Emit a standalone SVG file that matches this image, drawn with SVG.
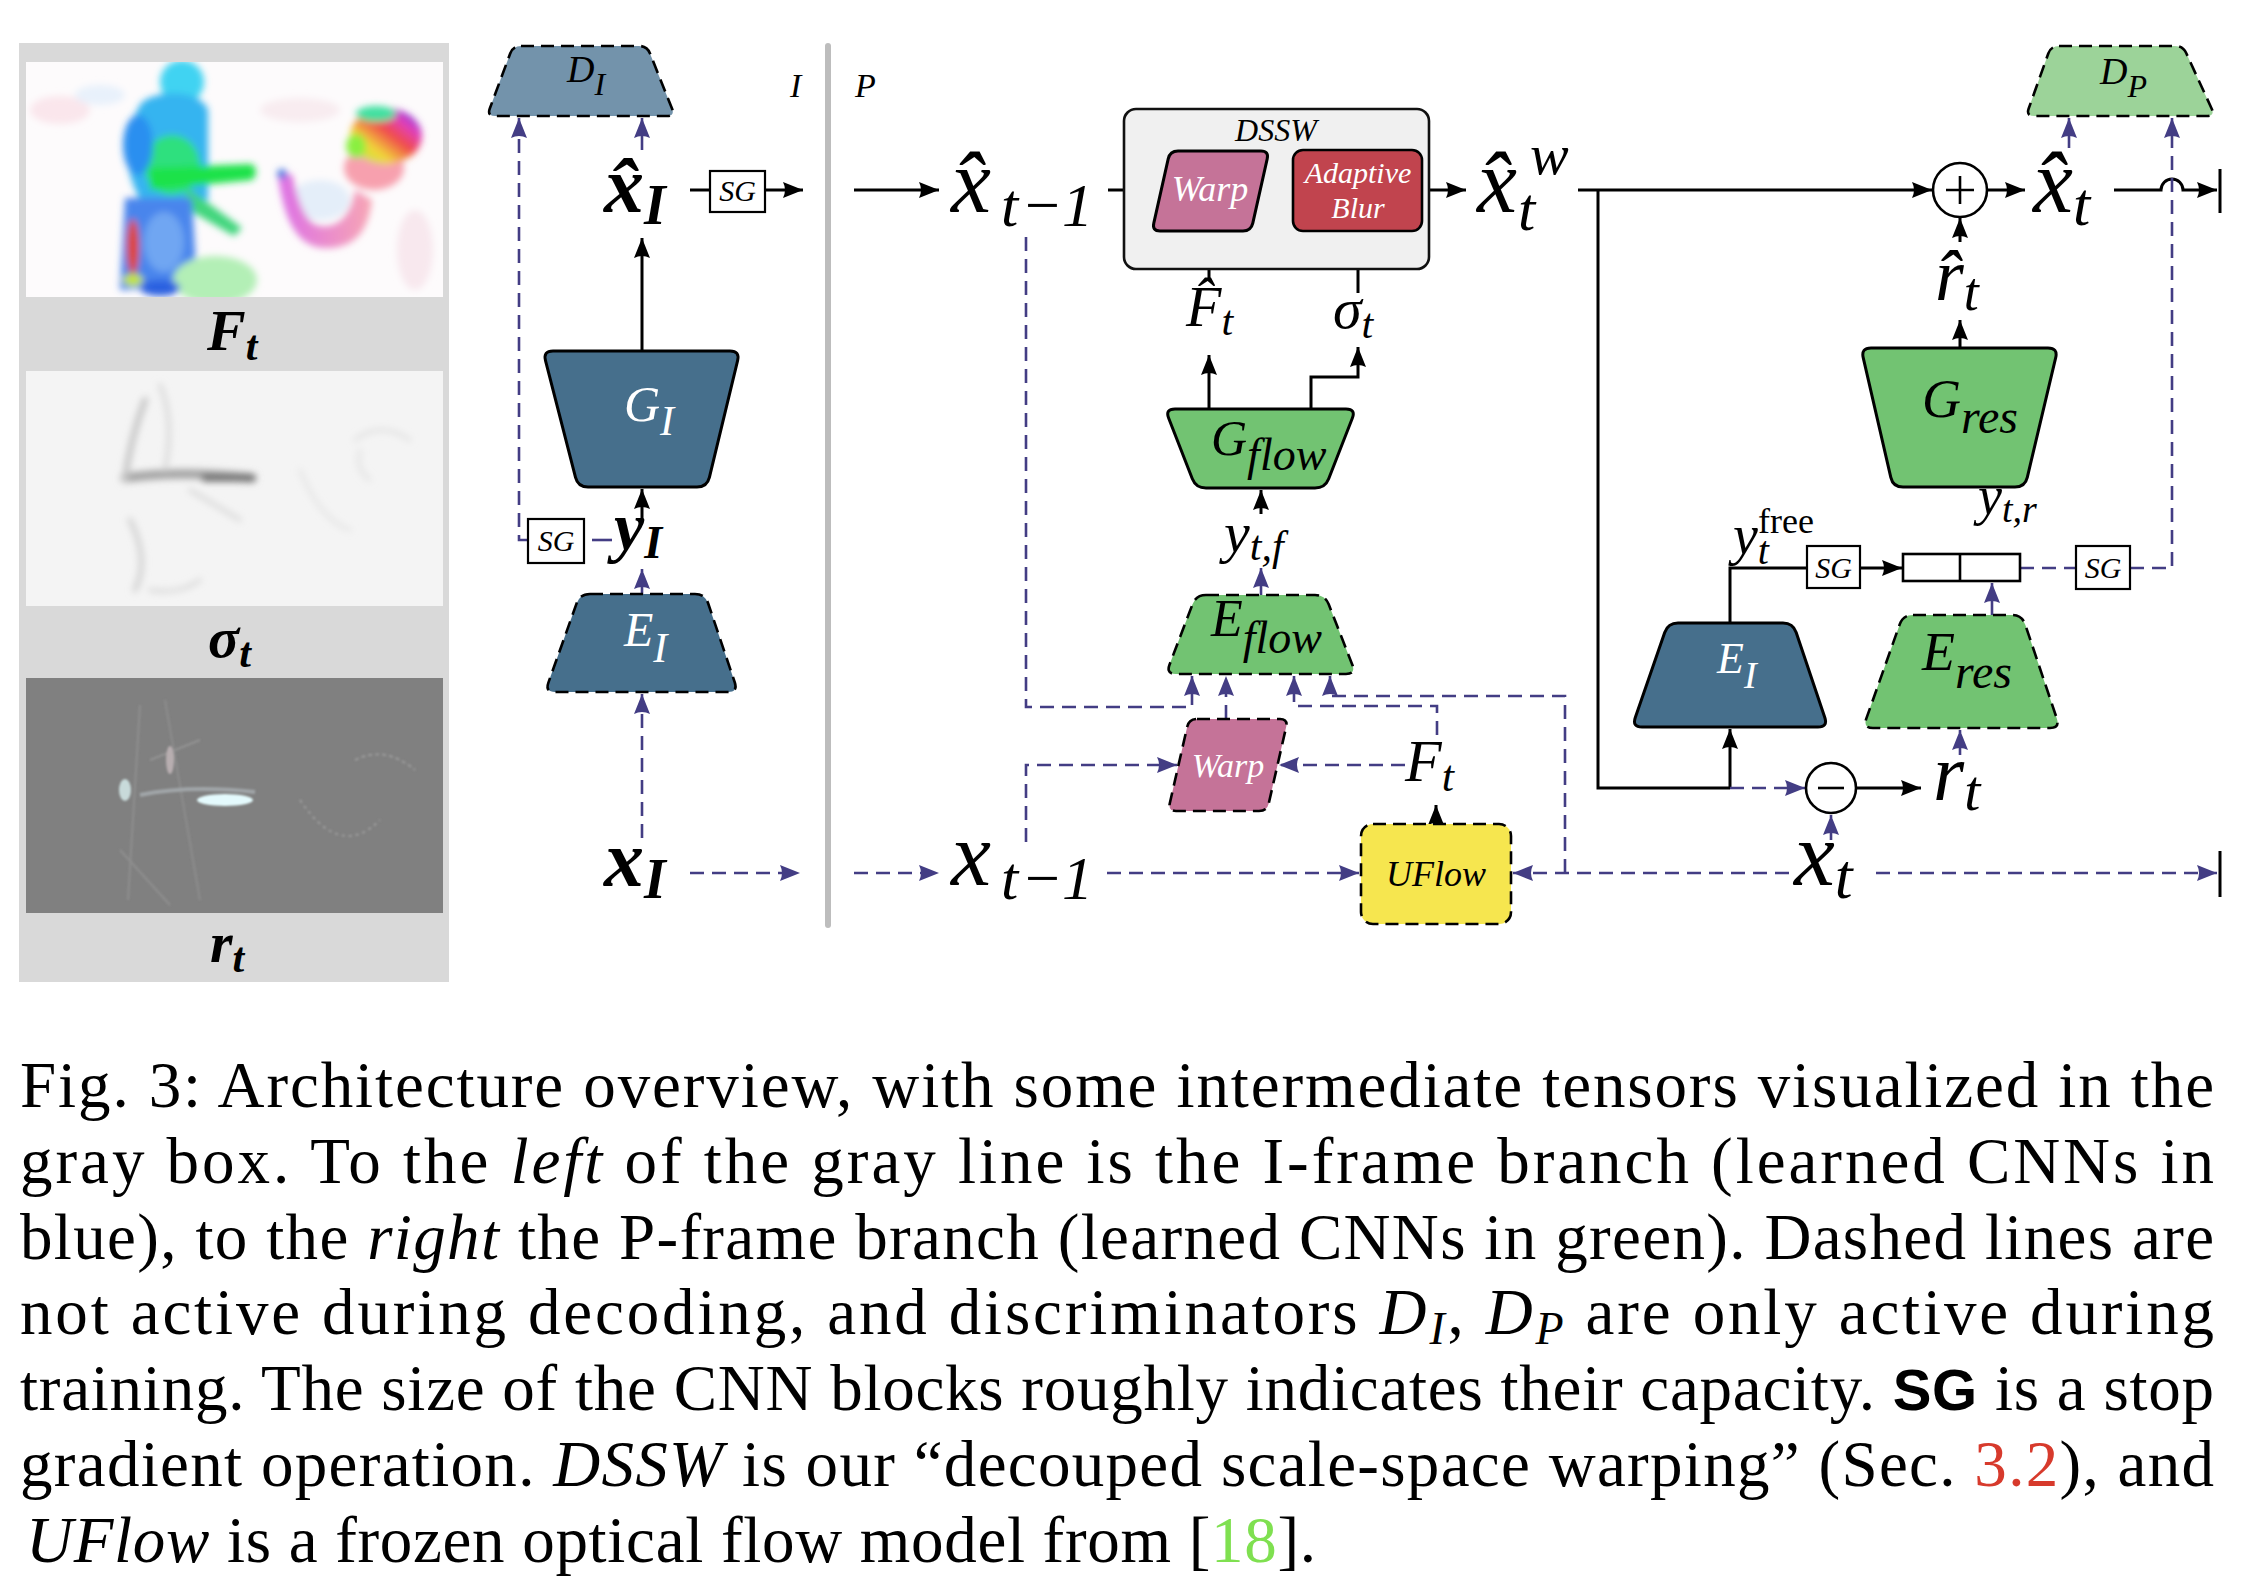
<svg xmlns="http://www.w3.org/2000/svg" width="2262" height="1596" viewBox="0 0 2262 1596">
<defs>
<style>
.m{font-family:"Liberation Serif","Times New Roman",serif;font-style:italic;fill:#000}
.mb{font-family:"Liberation Serif","Times New Roman",serif;font-style:italic;font-weight:bold;fill:#000}
.r{font-family:"Liberation Serif","Times New Roman",serif;fill:#000}
.wt{fill:#fff}
.cap{font-family:"Liberation Serif","Times New Roman",serif;font-size:65px;fill:#000}
.i{font-style:italic}
.ln{fill:none;stroke:#000;stroke-width:3}
.dl{fill:none;stroke:#433d84;stroke-width:2.6;stroke-dasharray:14 8}
.node{stroke:#000;stroke-width:3;stroke-linejoin:round}
.dn{stroke:#000;stroke-width:2.6;stroke-dasharray:13 7;stroke-linejoin:round}
.sg{fill:#fff;stroke:#000;stroke-width:2.2}
.blue{fill:#466f8c}
.green{fill:#72c372}
.pink{fill:#c57398}
</style>
<marker id="ab" viewBox="0 0 20 16" refX="20" refY="8" markerWidth="20" markerHeight="16" markerUnits="userSpaceOnUse" orient="auto"><path d="M0,0 L20,8 L0,16 Q4,8 0,0 Z" fill="#000"/></marker>
<marker id="ap" viewBox="0 0 20 16" refX="20" refY="8" markerWidth="20" markerHeight="16" markerUnits="userSpaceOnUse" orient="auto"><path d="M0,0 L20,8 L0,16 Q4,8 0,0 Z" fill="#433d84"/></marker>
<filter id="bl" x="-20%" y="-20%" width="140%" height="140%"><feGaussianBlur stdDeviation="3.5"/></filter>
<filter id="bl2" x="-20%" y="-20%" width="140%" height="140%"><feGaussianBlur stdDeviation="1.3"/></filter>
<clipPath id="c1"><rect x="26" y="62" width="417" height="235"/></clipPath>
<clipPath id="c2"><rect x="26" y="371" width="417" height="235"/></clipPath>
<clipPath id="c3"><rect x="26" y="678" width="417" height="235"/></clipPath>
<linearGradient id="armg" x1="0" y1="0" x2="1" y2="0"><stop offset="0" stop-color="#dc6fe6"/><stop offset="1" stop-color="#f7a6b4"/></linearGradient>
<linearGradient id="headg" x1="0" y1="1" x2="1" y2="0"><stop offset="0" stop-color="#a6f03a"/><stop offset="0.3" stop-color="#f2d63a"/><stop offset="0.55" stop-color="#f04a4a"/><stop offset="0.75" stop-color="#e040c0"/><stop offset="1" stop-color="#2030e8"/></linearGradient>
</defs>

<rect width="2262" height="1596" fill="#fff"/>

<!-- left panel with visualized tensors -->
<g id="panel">
<rect x="19" y="43" width="430" height="939" fill="#d9d9d9"/>
<g clip-path="url(#c1)">
<rect x="26" y="62" width="417" height="235" fill="#fdfbfc"/>
<g filter="url(#bl)">
<ellipse cx="60" cy="110" rx="30" ry="14" fill="#fae6ec"/>
<ellipse cx="100" cy="95" rx="25" ry="10" fill="#e8f1fb"/>
<ellipse cx="300" cy="110" rx="40" ry="12" fill="#f8ecf0"/>
<ellipse cx="415" cy="250" rx="18" ry="40" fill="#f8e8ee"/>
<ellipse cx="320" cy="200" rx="30" ry="20" fill="#e4eef9"/>
<ellipse cx="182" cy="82" rx="22" ry="22" fill="#3fd3f2"/>
<path d="M140,105 C150,90 200,88 208,110 L208,200 L140,200 C125,170 120,140 140,105 Z" fill="#35b4f0"/>
<ellipse cx="172" cy="165" rx="28" ry="30" fill="#2ee07e"/>
<ellipse cx="138" cy="145" rx="15" ry="30" fill="#2a8ff0"/>
<path d="M150,168 L252,164 Q260,172 252,180 L150,190 Z" fill="#1be24a"/>
<path d="M188,188 L242,228 L234,236 L182,206 Z" fill="#3fd57c"/>
<path d="M125,198 L192,198 L197,285 L120,290 Z" fill="#4a85ec"/>
<ellipse cx="164" cy="242" rx="20" ry="30" fill="#6fa6f2"/>
<ellipse cx="215" cy="280" rx="42" ry="24" fill="#b3efb6"/>
<ellipse cx="133" cy="247" rx="6" ry="28" fill="#e0421e"/>
<ellipse cx="133" cy="280" rx="10" ry="6" fill="#c6e82c"/>
<ellipse cx="160" cy="288" rx="20" ry="8" fill="#2c60e0"/>
<path d="M278,176 C285,226 300,250 330,248 C355,246 368,232 372,200 L355,190 C350,220 335,228 320,226 C305,224 298,200 292,174 Z" fill="url(#armg)"/>
<circle cx="282" cy="174" r="5" fill="#4a78e0"/>
<ellipse cx="374" cy="168" rx="30" ry="22" fill="#f7a0ae"/>
<ellipse cx="386" cy="136" rx="36" ry="28" fill="url(#headg)"/>
<ellipse cx="356" cy="146" rx="10" ry="12" fill="#8aef40"/>
<ellipse cx="376" cy="114" rx="20" ry="8" fill="#40e0a0"/>
</g>
</g>
<g clip-path="url(#c2)">
<rect x="26" y="371" width="417" height="235" fill="#f4f4f4"/>
<g filter="url(#bl)" fill="none" stroke-linecap="round">
<path d="M125,478 Q180,470 252,478" stroke="#a0a0a0" stroke-width="9"/>
<path d="M205,478 L252,478" stroke="#6a6a6a" stroke-width="7"/>
<path d="M145,400 Q130,440 125,480" stroke="#c4c4c4" stroke-width="6"/>
<path d="M160,385 Q175,420 165,470" stroke="#d6d6d6" stroke-width="4"/>
<path d="M130,520 Q150,560 135,590" stroke="#d0d0d0" stroke-width="5"/>
<path d="M150,590 Q180,595 200,580" stroke="#d8d8d8" stroke-width="4"/>
<path d="M190,490 L240,520" stroke="#d8d8d8" stroke-width="4"/>
<path d="M300,470 Q320,520 350,530" stroke="#e0e0e0" stroke-width="3"/>
<path d="M355,440 Q380,420 410,440" stroke="#dcdcdc" stroke-width="3"/>
<path d="M360,450 Q355,470 370,480" stroke="#dedede" stroke-width="3"/>
</g>
</g>
<g clip-path="url(#c3)">
<rect x="26" y="678" width="417" height="235" fill="#808080"/>
<g filter="url(#bl2)" fill="none">
<path d="M140,705 L128,900" stroke="#8e8e8e" stroke-width="2"/>
<path d="M165,700 L200,900" stroke="#8c8c8c" stroke-width="2"/>
<path d="M150,760 L200,740" stroke="#929292" stroke-width="2"/>
<path d="M140,795 Q190,785 255,792" stroke="#a0a5a8" stroke-width="4"/>
<ellipse cx="225" cy="800" rx="28" ry="6" fill="#e4fafd" stroke="none"/>
<ellipse cx="125" cy="790" rx="6" ry="11" fill="#c8dada" stroke="none"/>
<ellipse cx="170" cy="760" rx="4" ry="14" fill="#b8aeb0" stroke="none"/>
<path d="M300,800 Q340,860 380,820" stroke="#9c9c9c" stroke-width="2" stroke-dasharray="3 4"/>
<path d="M355,760 Q385,745 415,770" stroke="#9a9a9a" stroke-width="2" stroke-dasharray="4 3"/>
<path d="M120,850 L170,905" stroke="#8e8e8e" stroke-width="2"/>
</g>
</g>
<text class="mb" x="207" y="350" font-size="58">F<tspan font-size="42" dy="10">t</tspan></text>
<text class="mb" x="208" y="657" font-size="58">σ<tspan font-size="42" dy="10">t</tspan></text>
<text class="mb" x="210" y="962" font-size="58">r<tspan font-size="42" dy="10">t</tspan></text>
</g>

<!-- branch divider -->
<g id="divider">
<line x1="828" y1="46" x2="828" y2="925" stroke="#bdbdbd" stroke-width="6" stroke-linecap="round"/>
<text class="m" x="790" y="97" font-size="34" fill="#333">I</text>
<text class="m" x="855" y="97" font-size="34" fill="#333">P</text>
</g>

<!-- connectors -->
<g id="connectors">
<path class="ln" d="M642,351 V238" marker-end="url(#ab)"/>
<path class="ln" d="M642,518 V489" marker-end="url(#ab)"/>
<path class="ln" d="M690,190 H710"/>
<path class="ln" d="M765,190 H803" marker-end="url(#ab)"/>
<path class="ln" d="M854,190 H939" marker-end="url(#ab)"/>
<path class="ln" d="M1108,190 H1160" marker-end="url(#ab)"/>
<path class="ln" d="M1262,190 H1292" marker-end="url(#ab)"/>
<path class="ln" d="M1423,190 H1466" marker-end="url(#ab)"/>
<path class="ln" d="M1578,190 H1932" marker-end="url(#ab)"/>
<path class="ln" d="M1598,190 V788 H1730"/>
<path class="ln" d="M1730,788 V729" marker-end="url(#ab)"/>
<path class="ln" d="M1856,788 H1921" marker-end="url(#ab)"/>
<path class="ln" d="M1987,190 H2025" marker-end="url(#ab)"/>
<path class="ln" d="M2114,190 H2161 A11,11 0 0 1 2183,190 H2217" marker-end="url(#ab)"/>
<path class="ln" d="M2220,169 V213"/>
<path class="ln" d="M1960,242 V218" marker-end="url(#ab)"/>
<path class="ln" d="M1960,348 V320" marker-end="url(#ab)"/>
<path class="ln" d="M1730,623 V568 H1807"/>
<path class="ln" d="M1860,568 H1902" marker-end="url(#ab)"/>
<path class="ln" d="M1209,280 V233" marker-end="url(#ab)"/>
<path class="ln" d="M1358,293 V233" marker-end="url(#ab)"/>
<path class="ln" d="M1209,409 V355" marker-end="url(#ab)"/>
<path class="ln" d="M1311,409 V377 H1358 V347" marker-end="url(#ab)"/>
<path class="ln" d="M1261,514 V490" marker-end="url(#ab)"/>
<path class="ln" d="M1436,824 V805" marker-end="url(#ab)"/>
<path class="ln" d="M2220,851 V897"/>
<path class="dl" d="M528,540 H519 V118" marker-end="url(#ap)"/>
<path class="dl" d="M642,150 V118" marker-end="url(#ap)"/>
<path d="M592,540 H612" stroke="#433d84" stroke-width="2.6"/>
<path class="dl" d="M642,594 V569" marker-end="url(#ap)"/>
<path class="dl" d="M642,838 V694" marker-end="url(#ap)"/>
<path class="dl" d="M690,873 H800" marker-end="url(#ap)"/>
<path class="dl" d="M854,873 H939" marker-end="url(#ap)"/>
<path class="dl" d="M1107,873 H1359" marker-end="url(#ap)"/>
<path class="dl" d="M1789,873 H1513" marker-end="url(#ap)"/>
<path class="dl" d="M1876,873 H2217" marker-end="url(#ap)"/>
<path class="dl" d="M1565,873 V696 H1330 V676" marker-end="url(#ap)"/>
<path class="dl" d="M1026,237 V707 H1192 V676" marker-end="url(#ap)"/>
<path class="dl" d="M1226,719 V676" marker-end="url(#ap)"/>
<path class="dl" d="M1437,735 V706 H1294 V676" marker-end="url(#ap)"/>
<path class="dl" d="M1026,842 V765 H1177" marker-end="url(#ap)"/>
<path class="dl" d="M1405,765 H1279" marker-end="url(#ap)"/>
<path class="dl" d="M1261,595 V568" marker-end="url(#ap)"/>
<path class="dl" d="M1992,615 V583" marker-end="url(#ap)"/>
<path class="dl" d="M1960,755 V730" marker-end="url(#ap)"/>
<path class="dl" d="M1831,840 V815" marker-end="url(#ap)"/>
<path class="dl" d="M1730,788 H1805" marker-end="url(#ap)"/>
<path class="dl" d="M2020,568 H2076"/>
<path class="dl" d="M2130,568 H2172 V118" marker-end="url(#ap)"/>
<path class="dl" d="M2069,148 V118" marker-end="url(#ap)"/>
</g>

<!-- I-frame branch -->
<g id="D_I">
<path class="dn" fill="#7393ab" d="M521,46 L639,46 Q647,46 650,53.4 L672,108.6 Q675,116 667,116 L495,116 Q487,116 489.8,108.5 L510.2,53.5 Q513,46 521,46 Z"/>
<text class="m" x="567" y="82" font-size="38" fill="#eef2f8">D<tspan font-size="32" dy="13">I</tspan></text>
</g>
<g id="xhat_I"><text class="mb" x="604" y="212" font-size="80">x̂<tspan font-size="56" dy="12">I</tspan></text></g>
<g id="SG_I1"><rect class="sg" x="710" y="171" width="55" height="41"/><text class="m" x="737.5" y="201" font-size="30" text-anchor="middle">SG</text></g>
<g id="G_I">
<path class="node blue" d="M553,351 L730,351 Q740,351 737.6,360.7 L709.4,477.3 Q707,487 697,487 L588,487 Q578,487 575.5,477.3 L545.5,360.7 Q543,351 553,351 Z"/>
<text class="m wt" x="624" y="421" font-size="50">G<tspan font-size="42" dy="14">I</tspan></text>
</g>
<g id="SG_I2"><rect class="sg" x="528" y="519" width="56" height="44"/><text class="m" x="556" y="551" font-size="30" text-anchor="middle">SG</text></g>
<g id="y_I"><text class="mb" x="614" y="550" font-size="68">y<tspan font-size="46" dy="8">I</tspan></text></g>
<g id="E_I">
<path class="dn blue" d="M590,594 L695,594 Q705,594 708.2,603.5 L734.8,682.5 Q738,692 728,692 L555,692 Q545,692 548.4,682.6 L576.6,603.4 Q580,594 590,594 Z"/>
<text class="m wt" x="624" y="646" font-size="48">E<tspan font-size="42" dy="16">I</tspan></text>
</g>
<g id="x_I"><text class="mb" x="604" y="886" font-size="80">x<tspan font-size="56" dy="12">I</tspan></text></g>

<!-- P-frame branch -->
<g id="xhat_tm1"><text class="m" x="951" y="212" font-size="90">x̂<tspan x="1001" dy="14" font-size="62">t</tspan><tspan x="1021" font-size="62">−</tspan><tspan x="1062" font-size="62">1</tspan></text></g>
<g id="DSSW">
<rect x="1124" y="109" width="305" height="160" rx="12" fill="#f0f0f0" stroke="#111" stroke-width="2.6"/>
<text class="m" x="1276" y="141" font-size="32" text-anchor="middle">DSSW</text>
</g>
<g id="Warp1">
<path class="node pink" stroke-width="2.6" d="M1178,151 L1261,151 Q1269,151 1267.2,158.8 L1252.8,223.2 Q1251,231 1243,231 L1160,231 Q1152,231 1153.8,223.2 L1168.2,158.8 Q1170,151 1178,151 Z"/>
<text class="m wt" x="1210" y="201" font-size="36" text-anchor="middle">Warp</text>
</g>
<g id="AdaptiveBlur">
<rect x="1293" y="150" width="129" height="81" rx="10" fill="#c1444e" stroke="#000" stroke-width="2.6"/>
<text class="m wt" x="1358" y="183" font-size="30" text-anchor="middle">Adaptive</text>
<text class="m wt" x="1358" y="218" font-size="30" text-anchor="middle">Blur</text>
</g>
<g id="xhat_tw"><text class="m" x="1477" y="212" font-size="90">x̂<tspan x="1518" y="230" font-size="62">t</tspan><tspan x="1530" y="174" font-size="58">w</tspan></text></g>
<g id="Fhat_t"><text class="m" x="1186" y="326" font-size="58">F̂<tspan font-size="42" dy="9">t</tspan></text></g>
<g id="sigma_t"><text class="m" x="1333" y="328" font-size="58">σ<tspan font-size="42" dy="10">t</tspan></text></g>
<g id="G_flow">
<path class="node green" d="M1175,409 L1346,409 Q1356,409 1352.3,418.3 L1328.7,478.7 Q1325,488 1315,488 L1206,488 Q1196,488 1192.3,478.7 L1168.7,418.3 Q1165,409 1175,409 Z"/>
<text class="m" x="1211" y="455" font-size="50">G<tspan font-size="46" dy="15">flow</tspan></text>
</g>
<g id="y_tf"><text class="m" x="1224" y="552" font-size="58">y<tspan font-size="42" dy="8">t,f</tspan></text></g>
<g id="E_flow">
<path class="dn green" d="M1206,595 L1315,595 Q1325,595 1328.7,604.3 L1352.3,664.7 Q1356,674 1346,674 L1176,674 Q1166,674 1169.5,664.7 L1192.5,604.3 Q1196,595 1206,595 Z"/>
<text class="m" x="1211" y="636" font-size="52">E<tspan font-size="46" dy="17">flow</tspan></text>
</g>
<g id="Warp2">
<path class="dn pink" d="M1197,719 L1280,719 Q1288,719 1286.2,726.8 L1268.8,803.2 Q1267,811 1259,811 L1176,811 Q1168,811 1169.8,803.2 L1187.2,726.8 Q1189,719 1197,719 Z"/>
<text class="m wt" x="1228" y="777" font-size="34" text-anchor="middle">Warp</text>
</g>
<g id="F_t"><text class="m" x="1405" y="781" font-size="60">F<tspan font-size="44" dy="10">t</tspan></text></g>
<g id="UFlow">
<rect class="dn" x="1361" y="824" width="150" height="100" rx="12" fill="#f6e64f"/>
<text class="m" x="1436" y="886" font-size="36" text-anchor="middle">UFlow</text>
</g>
<g id="x_tm1"><text class="m" x="951" y="885" font-size="90">x<tspan x="1001" dy="14" font-size="62">t</tspan><tspan x="1021" font-size="62">−</tspan><tspan x="1062" font-size="62">1</tspan></text></g>
<g id="plus">
<circle cx="1960" cy="190" r="27" fill="#fff" stroke="#000" stroke-width="2.6"/>
<path d="M1946,190 H1974 M1960,176 V204" stroke="#000" stroke-width="2.6"/>
</g>
<g id="xhat_t"><text class="m" x="2033" y="212" font-size="90">x̂<tspan font-size="62" dy="13">t</tspan></text></g>
<g id="D_P">
<path class="dn" fill="#9cd399" d="M2059,46 L2175,46 Q2183,46 2186.3,53.3 L2211.7,108.7 Q2215,116 2207,116 L2034,116 Q2026,116 2028.7,108.5 L2048.3,53.5 Q2051,46 2059,46 Z"/>
<text class="m" x="2100" y="84" font-size="38" fill="#1a1a1a">D<tspan font-size="32" dy="13">P</tspan></text>
</g>
<g id="rhat_t"><text class="m" x="1935" y="300" font-size="74">r̂<tspan font-size="54" dy="10">t</tspan></text></g>
<g id="G_res">
<path class="node green" d="M1871,348 L2048,348 Q2058,348 2055.7,357.7 L2027.3,477.3 Q2025,487 2015,487 L1903,487 Q1893,487 1890.8,477.3 L1863.2,357.7 Q1861,348 1871,348 Z"/>
<text class="m" x="1922" y="417" font-size="54">G<tspan font-size="48" dy="16">res</tspan></text>
</g>
<g id="y_tr"><text class="m" x="1978" y="514" font-size="54">y<tspan font-size="38" dy="8">t,r</tspan></text></g>
<g id="y_free"><text class="m" x="1733" y="554" font-size="56">y<tspan font-size="40" dy="10">t</tspan></text><text class="r" x="1758" y="533" font-size="36">free</text></g>
<g id="SG_P1"><rect class="sg" x="1807" y="546" width="53" height="42"/><text class="m" x="1833.5" y="578" font-size="30" text-anchor="middle">SG</text></g>
<g id="concat"><rect x="1903" y="554" width="117" height="27" fill="#fff" stroke="#000" stroke-width="2.6"/><line x1="1960" y1="554" x2="1960" y2="581" stroke="#000" stroke-width="2.6"/></g>
<g id="SG_P2"><rect class="sg" x="2076" y="546" width="54" height="43"/><text class="m" x="2103" y="578" font-size="30" text-anchor="middle">SG</text></g>
<g id="E_I_P">
<path class="node blue" d="M1678,623 L1783,623 Q1793,623 1796.2,632.5 L1824.8,717.5 Q1828,727 1818,727 L1642,727 Q1632,727 1635.3,717.5 L1664.7,632.5 Q1668,623 1678,623 Z"/>
<text class="m wt" x="1717" y="673" font-size="44">E<tspan font-size="38" dy="15">I</tspan></text>
</g>
<g id="E_res">
<path class="dn green" d="M1913,615 L2012,615 Q2022,615 2025.2,624.5 L2056.8,718.5 Q2060,728 2050,728 L1873,728 Q1863,728 1866.3,718.6 L1899.7,624.4 Q1903,615 1913,615 Z"/>
<text class="m" x="1922" y="670" font-size="54">E<tspan font-size="48" dy="18">res</tspan></text>
</g>
<g id="minus">
<circle cx="1831" cy="788" r="25" fill="#fff" stroke="#000" stroke-width="2.6"/>
<path d="M1818,788 H1844" stroke="#000" stroke-width="2.6"/>
</g>
<g id="r_t"><text class="m" x="1933" y="800" font-size="80">r<tspan font-size="58" dy="10">t</tspan></text></g>
<g id="x_t"><text class="m" x="1794" y="885" font-size="92">x<tspan font-size="64" dy="13">t</tspan></text></g>

<!-- caption -->
<g id="caption">
<text class="cap" x="20" y="1107" textLength="2194" lengthAdjust="spacing">Fig. 3:  Architecture overview, with some intermediate tensors visualized in the</text>
<text class="cap" x="20" y="1183" textLength="2194" lengthAdjust="spacing">gray box. To the <tspan class="i">left</tspan> of the gray line is the I-frame branch (learned CNNs in</text>
<text class="cap" x="20" y="1259" textLength="2194" lengthAdjust="spacing">blue), to the <tspan class="i">right</tspan> the P-frame branch (learned CNNs in green). Dashed lines are</text>
<text class="cap" x="20" y="1334" textLength="2194" lengthAdjust="spacing">not active during decoding, and discriminators <tspan class="i">D</tspan><tspan class="i" font-size="46" dy="10">I</tspan><tspan dy="-10">, </tspan><tspan class="i">D</tspan><tspan class="i" font-size="46" dy="10">P</tspan><tspan dy="-10"> are only active during</tspan></text>
<text class="cap" x="20" y="1410" textLength="2194" lengthAdjust="spacing">training. The size of the CNN blocks roughly indicates their capacity. <tspan font-family="Liberation Sans" font-weight="bold" font-size="58">SG</tspan> is a stop</text>
<text class="cap" x="20" y="1486" textLength="2194" lengthAdjust="spacing">gradient operation. <tspan class="i">DSSW</tspan> is our “decouped scale-space warping” (Sec. <tspan fill="#d73a2c">3.2</tspan>), and</text>
<text class="cap" x="26" y="1562" textLength="1290" lengthAdjust="spacing"><tspan class="i">UFlow</tspan> is a frozen optical flow model from [<tspan fill="#7fe050">18</tspan>].</text>
</g>
</svg>
